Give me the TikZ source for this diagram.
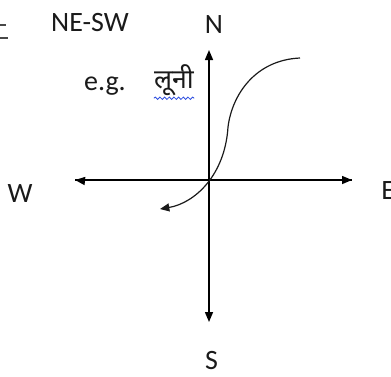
\documentclass[tikz,border=0pt]{standalone}
\usepackage{fontspec}
\setmainfont{Carlito}
\newfontfamily\devfont[Script=Devanagari]{Noto Sans}
\usepackage{tikz}
\usetikzlibrary{arrows.meta,decorations.pathmorphing}
\definecolor{inkgray}{HTML}{1A1A1A}
\definecolor{squiggle}{HTML}{3050E0}
\tikzset{
  compassarrow/.style={
    -{Triangle[length=7.5pt,width=6pt]}, line width=1.1pt, color=#1
  },
  compassarrow/.default=black,
  dirlabel/.style={
    font=\fontsize{21}{24}\selectfont, anchor=base, inner sep=0pt, color=inkgray
  },
  flowcurve/.style={
    -{Triangle[length=7pt,width=6pt]}, line width=0.9pt, color=#1
  },
  flowcurve/.default=inkgray,
}
\begin{document}
\begin{tikzpicture}[x=0.75pt,y=-0.75pt]
  \useasboundingbox (0,0) rectangle (391,376);

  \coordinate (origin) at (209,181);
  \coordinate (northtip) at (209,50);
  \coordinate (southtip) at (209,322);
  \coordinate (westtip) at (75,180);
  \coordinate (easttip) at (352,180);

  \draw[compassarrow] (origin) -- (northtip);
  \draw[compassarrow] (origin) -- (southtip);
  \draw[compassarrow] (westtip |- origin) ++(10,0) -- (westtip);
  \draw[line width=1.1pt] (westtip) -- (easttip);
  \draw[compassarrow] (easttip) ++(-10,0) -- (easttip);

  % directions
  \node[dirlabel] (north) at (214,33) {N};
  \node[dirlabel] (south) at (211.5,369) {S};
  \node[dirlabel] (west) at (20,202) {W};
  \node[dirlabel, anchor=base west] (east) at (381,199) {E};
  \node[dirlabel] (trend) at (90,31) {NE-SW};

  % example river
  \node[dirlabel] (eg) at (105,90) {e.g.};
  \node[dirlabel, font=\fontsize{20}{24}\selectfont\devfont] (luni) at (174,88) {लूनी};
  \draw[squiggle, line width=0.6pt,
        decorate, decoration={snake, amplitude=0.9pt, segment length=3.5pt}]
    ([yshift=-2pt]luni.south west) -- ([yshift=-2pt]luni.south east);

  \draw[flowcurve] (300,58) .. controls (255,60) and (232,95) .. (228,127)
    .. controls (225,175) and (195,203) .. (160,209);

  % clipped marks at the left edge
  \draw[line width=1.1pt, color=inkgray!80] (0,25) -- (6,25);
  \draw[line width=1.1pt, color=inkgray!80] (0,38) -- (8,38);
\end{tikzpicture}
\end{document}
